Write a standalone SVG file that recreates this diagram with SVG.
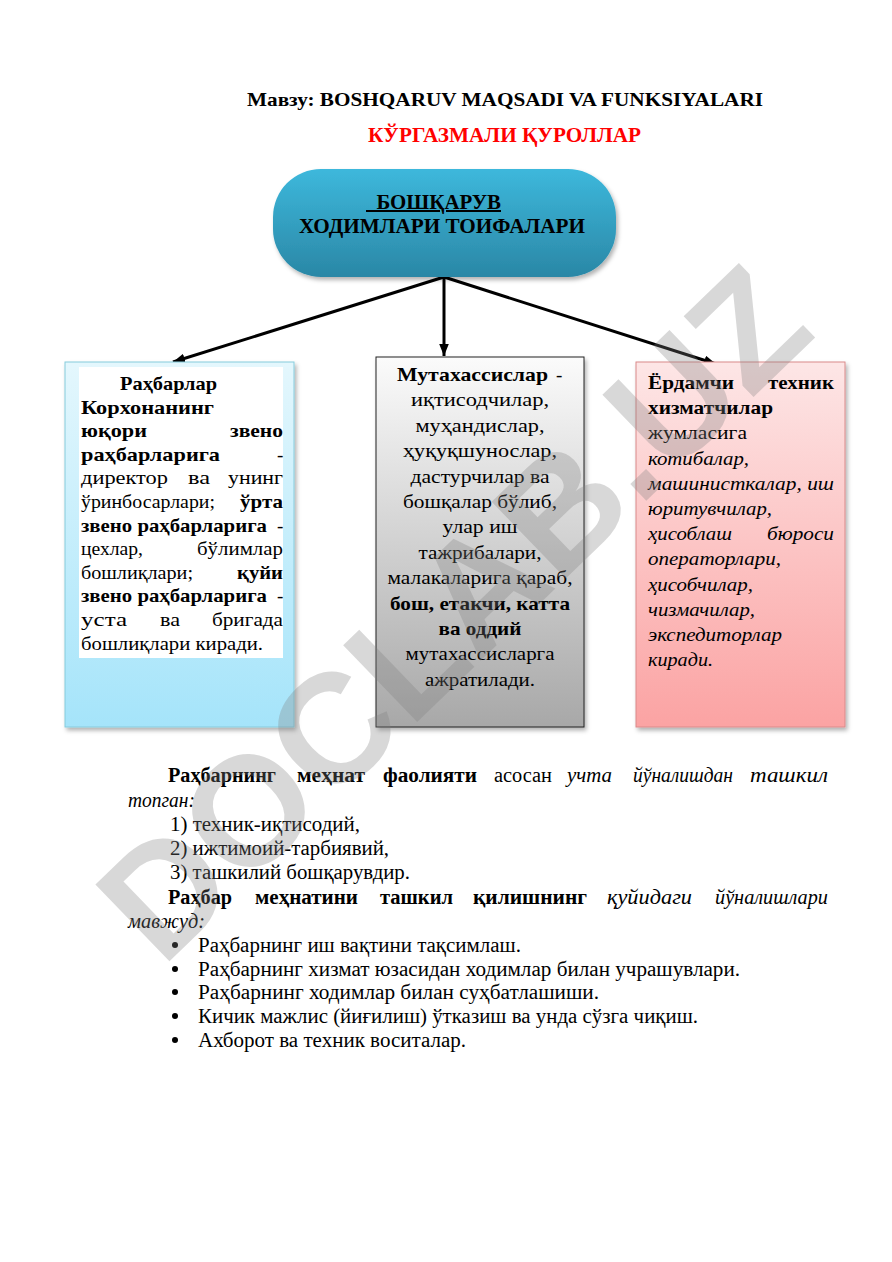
<svg xmlns="http://www.w3.org/2000/svg" width="892" height="1262" viewBox="0 0 892 1262">
<defs>
<style>
.t{font-family:"Liberation Serif","Times New Roman",serif;fill:#000}
.b{font-weight:bold}
.i{font-style:italic}
.s19{font-size:19px}
.s20{font-size:20px}
.mid{text-anchor:middle}
.conn{stroke:#000;stroke-width:3;fill:none;marker-end:url(#ah)}
.bul{fill:#000}
</style>
<marker id="ah" viewBox="0 0 10 8" refX="10" refY="4" markerWidth="4" markerHeight="3.2" orient="auto">
<path d="M0,0 L10,4 L0,8 z" fill="#000"/>
</marker>
<linearGradient id="gPill" x1="0" y1="0" x2="0" y2="1">
<stop offset="0" stop-color="#3db8dc"/>
<stop offset="1" stop-color="#2a87a6"/>
</linearGradient>
<linearGradient id="gBlue" x1="0" y1="0" x2="0" y2="1">
<stop offset="0" stop-color="#e4f7fd"/>
<stop offset="1" stop-color="#a5e4fa"/>
</linearGradient>
<linearGradient id="gGray" x1="0" y1="0" x2="0" y2="1">
<stop offset="0" stop-color="#fbfbfb"/>
<stop offset="1" stop-color="#a8a8a8"/>
</linearGradient>
<linearGradient id="gPink" x1="0" y1="0" x2="0" y2="1">
<stop offset="0" stop-color="#fde6e6"/>
<stop offset="1" stop-color="#fba3a3"/>
</linearGradient>
<filter id="sh" x="-10%" y="-10%" width="125%" height="125%">
<feDropShadow dx="2" dy="3" stdDeviation="2" flood-color="#000" flood-opacity="0.3"/>
</filter>
</defs>
<rect width="892" height="1262" fill="#fff"/>

<g id="title">
<text class="t b" x="247" y="106" style="font-size:19px" textLength="516" lengthAdjust="spacingAndGlyphs">Мавзу: BOSHQARUV MAQSADI VA FUNKSIYALARI</text>
<text class="t b" x="368" y="142" style="font-size:21px;fill:#ff0000" textLength="273" lengthAdjust="spacingAndGlyphs">КЎРГАЗМАЛИ ҚУРОЛЛАР</text>
</g>

<g id="connectors">
<line class="conn" x1="444" y1="277" x2="173" y2="362"/>
<line class="conn" x1="444" y1="277" x2="444" y2="356"/>
<line class="conn" x1="444" y1="277" x2="716" y2="364"/>
</g>

<g id="root">
<rect x="273" y="169" width="343" height="108" rx="48" ry="48" fill="url(#gPill)" filter="url(#sh)"/>
<text class="t b s20" x="366" y="209" textLength="135" lengthAdjust="spacingAndGlyphs" text-decoration="underline">&#160;&#160;БОШҚАРУВ</text>
<text class="t b s20 mid" x="442" y="233" textLength="286" lengthAdjust="spacingAndGlyphs">ХОДИМЛАРИ ТОИФАЛАРИ</text>
</g>

<g id="leaders">
<rect x="65" y="362" width="229" height="365" fill="url(#gBlue)" stroke="#86cbdc" stroke-width="1" filter="url(#sh)"/>
<rect x="79" y="367" width="204" height="291" fill="#fff"/>
<text class="t b s19" x="120" y="390" textLength="97" lengthAdjust="spacingAndGlyphs">Раҳбарлар</text>
<text class="t b s19" x="81" y="414" textLength="133" lengthAdjust="spacingAndGlyphs">Корхонанинг</text>
<text class="t b s19" x="81" y="437" textLength="66" lengthAdjust="spacingAndGlyphs">юқори</text>
<text class="t b s19" x="230" y="437" textLength="53" lengthAdjust="spacingAndGlyphs">звено</text>
<text class="t b s19" x="81" y="461" textLength="139" lengthAdjust="spacingAndGlyphs">раҳбарларига</text>
<text class="t s19" x="277" y="461">-</text>
<text class="t s19" x="81" y="484" textLength="87" lengthAdjust="spacingAndGlyphs">директор</text>
<text class="t s19" x="188" y="484" textLength="22" lengthAdjust="spacingAndGlyphs">ва</text>
<text class="t s19" x="228" y="484" textLength="55" lengthAdjust="spacingAndGlyphs">унинг</text>
<text class="t s19" x="81" y="508" textLength="134" lengthAdjust="spacingAndGlyphs">ўринбосарлари;</text>
<text class="t b s19" x="240" y="508" textLength="43" lengthAdjust="spacingAndGlyphs">ўрта</text>
<text class="t b s19" x="81" y="532" textLength="186" lengthAdjust="spacingAndGlyphs">звено раҳбарларига</text>
<text class="t s19" x="277" y="532">-</text>
<text class="t s19" x="81" y="555" textLength="62" lengthAdjust="spacingAndGlyphs">цехлар,</text>
<text class="t s19" x="197" y="555" textLength="86" lengthAdjust="spacingAndGlyphs">бўлимлар</text>
<text class="t s19" x="81" y="579" textLength="112" lengthAdjust="spacingAndGlyphs">бошлиқлари;</text>
<text class="t b s19" x="237" y="579" textLength="46" lengthAdjust="spacingAndGlyphs">қуйи</text>
<text class="t b s19" x="81" y="602" textLength="186" lengthAdjust="spacingAndGlyphs">звено раҳбарларига</text>
<text class="t s19" x="277" y="602">-</text>
<text class="t s19" x="81" y="626" textLength="46" lengthAdjust="spacingAndGlyphs">уста</text>
<text class="t s19" x="160" y="626" textLength="20" lengthAdjust="spacingAndGlyphs">ва</text>
<text class="t s19" x="212" y="626" textLength="71" lengthAdjust="spacingAndGlyphs">бригада</text>
<text class="t s19" x="81" y="650" textLength="182" lengthAdjust="spacingAndGlyphs">бошлиқлари киради.</text>
</g>

<g id="specialists">
<rect x="376" y="357" width="208" height="370" fill="url(#gGray)" stroke="#222" stroke-width="1" filter="url(#sh)"/>
<text class="t b s19" x="397" y="381" textLength="151" lengthAdjust="spacingAndGlyphs">Мутахассислар</text>
<text class="t s19" x="556" y="381">-</text>
<text class="t s19 mid" x="480" y="406" textLength="138" lengthAdjust="spacingAndGlyphs">иқтисодчилар,</text>
<text class="t s19 mid" x="480" y="432" textLength="129" lengthAdjust="spacingAndGlyphs">муҳандислар,</text>
<text class="t s19 mid" x="480" y="457" textLength="154" lengthAdjust="spacingAndGlyphs">ҳуқуқшунослар,</text>
<text class="t s19 mid" x="480" y="483" textLength="139" lengthAdjust="spacingAndGlyphs">дастурчилар ва</text>
<text class="t s19 mid" x="480" y="508" textLength="154" lengthAdjust="spacingAndGlyphs">бошқалар бўлиб,</text>
<text class="t s19 mid" x="480" y="533" textLength="75" lengthAdjust="spacingAndGlyphs">улар иш</text>
<text class="t s19 mid" x="480" y="559" textLength="123" lengthAdjust="spacingAndGlyphs">тажрибалари,</text>
<text class="t s19 mid" x="480" y="584" textLength="185" lengthAdjust="spacingAndGlyphs">малакаларига қараб,</text>
<text class="t b s19 mid" x="480" y="610" textLength="180" lengthAdjust="spacingAndGlyphs">бош, етакчи, катта</text>
<text class="t b s19 mid" x="480" y="635" textLength="83" lengthAdjust="spacingAndGlyphs">ва оддий</text>
<text class="t s19 mid" x="480" y="660" textLength="149" lengthAdjust="spacingAndGlyphs">мутахассисларга</text>
<text class="t s19 mid" x="480" y="686" textLength="110" lengthAdjust="spacingAndGlyphs">ажратилади.</text>
</g>

<g id="assistants">
<rect x="636" y="362" width="209" height="365" fill="url(#gPink)" stroke="#d98a8a" stroke-width="1" filter="url(#sh)"/>
<text class="t b s19" x="648" y="389" textLength="86" lengthAdjust="spacingAndGlyphs">Ёрдамчи</text>
<text class="t b s19" x="768" y="389" textLength="66" lengthAdjust="spacingAndGlyphs">техник</text>
<text class="t b s19" x="648" y="414" textLength="125" lengthAdjust="spacingAndGlyphs">хизматчилар</text>
<text class="t s19" x="648" y="439" textLength="99" lengthAdjust="spacingAndGlyphs">жумласига</text>
<text class="t i s19" x="648" y="465" textLength="101" lengthAdjust="spacingAndGlyphs">котибалар,</text>
<text class="t i s19" x="648" y="490" textLength="186" lengthAdjust="spacingAndGlyphs">машинисткалар, иш</text>
<text class="t i s19" x="648" y="515" textLength="124" lengthAdjust="spacingAndGlyphs">юритувчилар,</text>
<text class="t i s19" x="648" y="540" textLength="84" lengthAdjust="spacingAndGlyphs">ҳисоблаш</text>
<text class="t i s19" x="767" y="540" textLength="67" lengthAdjust="spacingAndGlyphs">бюроси</text>
<text class="t i s19" x="648" y="565" textLength="133" lengthAdjust="spacingAndGlyphs">операторлари,</text>
<text class="t i s19" x="648" y="591" textLength="105" lengthAdjust="spacingAndGlyphs">ҳисобчилар,</text>
<text class="t i s19" x="648" y="616" textLength="107" lengthAdjust="spacingAndGlyphs">чизмачилар,</text>
<text class="t i s19" x="648" y="641" textLength="134" lengthAdjust="spacingAndGlyphs">экспедиторлар</text>
<text class="t i s19" x="648" y="666" textLength="65" lengthAdjust="spacingAndGlyphs">киради.</text>
</g>

<g id="body">
<text class="t b s20" x="168" y="782" textLength="108" lengthAdjust="spacingAndGlyphs">Раҳбарнинг</text>
<text class="t b s20" x="297" y="782" textLength="68" lengthAdjust="spacingAndGlyphs">меҳнат</text>
<text class="t b s20" x="383" y="782" textLength="94" lengthAdjust="spacingAndGlyphs">фаолияти</text>
<text class="t s20" x="494" y="782" textLength="58" lengthAdjust="spacingAndGlyphs">асосан</text>
<text class="t i s20" x="567" y="782" textLength="45" lengthAdjust="spacingAndGlyphs">учта</text>
<text class="t i s20" x="633" y="782" textLength="100" lengthAdjust="spacingAndGlyphs">йўналишдан</text>
<text class="t i s20" x="750" y="782" textLength="78" lengthAdjust="spacingAndGlyphs">ташкил</text>
<text class="t i s20" x="128" y="807" textLength="67" lengthAdjust="spacingAndGlyphs">топган:</text>
<text class="t s20" x="170" y="831" textLength="190" lengthAdjust="spacingAndGlyphs">1) техник-иқтисодий,</text>
<text class="t s20" x="170" y="855" textLength="219" lengthAdjust="spacingAndGlyphs">2) ижтимоий-тарбиявий,</text>
<text class="t s20" x="170" y="879" textLength="240" lengthAdjust="spacingAndGlyphs">3) ташкилий бошқарувдир.</text>
<text class="t b s20" x="168" y="904" textLength="64" lengthAdjust="spacingAndGlyphs">Раҳбар</text>
<text class="t b s20" x="255" y="904" textLength="103" lengthAdjust="spacingAndGlyphs">меҳнатини</text>
<text class="t b s20" x="380" y="904" textLength="73" lengthAdjust="spacingAndGlyphs">ташкил</text>
<text class="t b s20" x="473" y="904" textLength="114" lengthAdjust="spacingAndGlyphs">қилишнинг</text>
<text class="t i s20" x="607" y="904" textLength="85" lengthAdjust="spacingAndGlyphs">қуйидаги</text>
<text class="t i s20" x="715" y="904" textLength="113" lengthAdjust="spacingAndGlyphs">йўналишлари</text>
<text class="t i s20" x="128" y="928" textLength="77" lengthAdjust="spacingAndGlyphs">мавжуд:</text>
<circle class="bul" cx="175" cy="945" r="3"/>
<text class="t s20" x="198" y="952" textLength="323" lengthAdjust="spacingAndGlyphs">Раҳбарнинг иш вақтини тақсимлаш.</text>
<circle class="bul" cx="175" cy="969" r="3"/>
<text class="t s20" x="198" y="976" textLength="542" lengthAdjust="spacingAndGlyphs">Раҳбарнинг хизмат юзасидан ходимлар билан учрашувлари.</text>
<circle class="bul" cx="175" cy="992" r="3"/>
<text class="t s20" x="198" y="999" textLength="401" lengthAdjust="spacingAndGlyphs">Раҳбарнинг ходимлар билан суҳбатлашиши.</text>
<circle class="bul" cx="175" cy="1016" r="3"/>
<text class="t s20" x="198" y="1023" textLength="500" lengthAdjust="spacingAndGlyphs">Кичик мажлис (йиғилиш) ўтказиш ва унда сўзга чиқиш.</text>
<circle class="bul" cx="175" cy="1040" r="3"/>
<text class="t s20" x="198" y="1047" textLength="268" lengthAdjust="spacingAndGlyphs">Ахборот ва техник воситалар.</text>
</g>

<g id="watermark" transform="translate(452,612) rotate(-44)" opacity="0.3">
<text x="0" y="55" text-anchor="middle" style="font-family:'Liberation Sans',Arial,sans-serif;font-weight:bold;font-size:155px;fill:#808080">DOCLAB.UZ</text>
</g>
</svg>
